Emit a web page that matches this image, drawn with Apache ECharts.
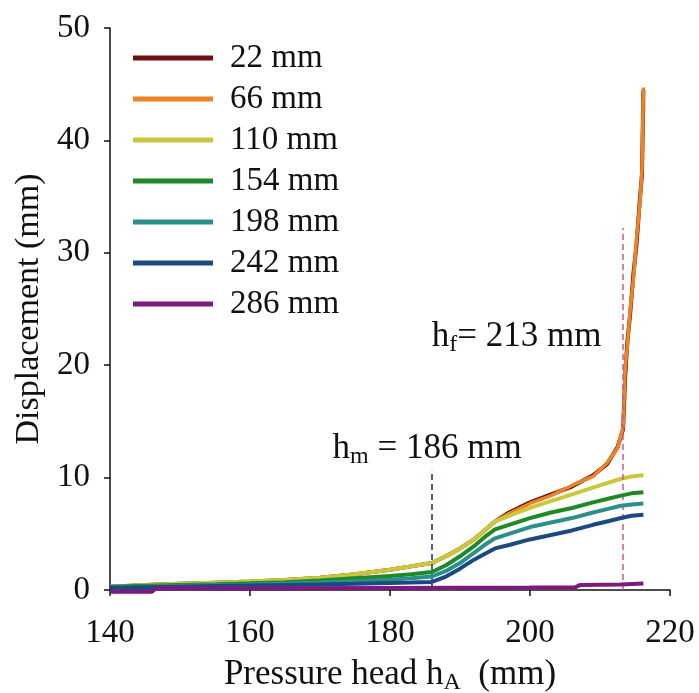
<!DOCTYPE html>
<html>
<head>
<meta charset="utf-8">
<script src="https://cdn.jsdelivr.net/npm/echarts@6/dist/echarts.min.js"></script>
<style>
  html, body { margin: 0; padding: 0; background: #fff; }
  #chart { width: 699px; height: 693px; }
</style>
</head>
<body>
<div id="chart"></div>
<script>
// pressure head (mm) for the two failing sections
const headFail = [140, 145, 150, 155, 160, 165, 170, 175, 180, 183, 186, 188, 190, 192, 193.5, 195, 197, 200, 203, 206, 209, 211, 212.5, 213.3, 213.6, 213.9, 214.3, 214.8, 215.2, 215.7, 216.0, 216.2];
const disp22 = [0.3, 0.45, 0.55, 0.65, 0.75, 0.9, 1.1, 1.4, 1.8, 2.1, 2.4, 3.0, 3.7, 4.5, 5.3, 6.1, 6.9, 7.8, 8.5, 9.2, 10.2, 11.2, 12.7, 14.3, 19.0, 22.0, 24.5, 28.3, 30.6, 34.8, 37.0, 44.5];
const disp66 = [0.3, 0.45, 0.55, 0.65, 0.75, 0.9, 1.1, 1.4, 1.8, 2.1, 2.4, 3.0, 3.7, 4.5, 5.3, 6.1, 6.8, 7.7, 8.4, 9.3, 10.1, 11.3, 12.6, 14.5, 19.8, 21.6, 24.9, 27.8, 31.1, 34.4, 37.4, 44.7];

// pressure head (mm) for the stable sections
const headStable = [140, 145, 150, 155, 160, 165, 170, 175, 180, 183, 186, 188, 190, 192, 193.5, 195, 197, 200, 203, 206, 209, 211, 213, 214.5, 216.2];
const disp110 = [0.3, 0.45, 0.55, 0.65, 0.75, 0.9, 1.1, 1.4, 1.8, 2.1, 2.4, 3.0, 3.7, 4.5, 5.3, 6.1, 6.6, 7.3, 7.9, 8.5, 9.1, 9.5, 9.9, 10.1, 10.2];
const disp154 = [0.28, 0.38, 0.45, 0.52, 0.6, 0.7, 0.85, 1.05, 1.25, 1.4, 1.6, 2.2, 3.0, 3.9, 4.7, 5.4, 5.8, 6.4, 6.9, 7.3, 7.8, 8.1, 8.4, 8.6, 8.7];
const disp198 = [0.25, 0.32, 0.38, 0.44, 0.5, 0.57, 0.66, 0.78, 0.92, 1.05, 1.2, 1.7, 2.4, 3.3, 4.0, 4.6, 5.0, 5.6, 6.0, 6.4, 6.9, 7.2, 7.5, 7.6, 7.7];
const disp242 = [0.2, 0.25, 0.3, 0.35, 0.4, 0.45, 0.5, 0.55, 0.62, 0.66, 0.72, 1.2, 1.9, 2.7, 3.2, 3.7, 4.0, 4.5, 4.9, 5.3, 5.8, 6.1, 6.4, 6.6, 6.7];

// deepest section
const headBase = [140, 146, 146.6, 160, 180, 200, 206.5, 207.2, 213, 216.2];
const disp286 = [-0.15, -0.15, 0.15, 0.15, 0.18, 0.22, 0.25, 0.45, 0.48, 0.58];

const seriesNames = ['22 mm', '66 mm', '110 mm', '154 mm', '198 mm', '242 mm', '286 mm'];
const seriesColors = ['#6e1010', '#ec8424', '#c9c83c', '#1f8a25', '#2b8f8c', '#1b4a82', '#7b1a80'];

const hm = 186, hmTop = 10.7;
const hf = 213.3, hfTop = 32.2;

const font = "'Liberation Serif', 'Times New Roman', serif";

function pairs(xs, ys) {
  return xs.map((x, i) => [x, ys[i]]);
}

const chart = echarts.init(document.getElementById('chart'));

const lineData = [
  pairs(headFail, disp22),
  pairs(headFail, disp66),
  pairs(headStable, disp110),
  pairs(headStable, disp154),
  pairs(headStable, disp198),
  pairs(headStable, disp242),
  pairs(headBase, disp286)
];

const series = lineData.map((d, i) => ({
  name: seriesNames[i],
  type: 'line',
  data: d,
  showSymbol: false,
  clip: false,
  color: seriesColors[i],
  lineStyle: { width: i === 1 ? 3.5 : 4, color: seriesColors[i] },
  z: 2 + i
}));

// dashed markers and their labels
series[0].markLine = {
  silent: true,
  symbol: 'none',
  label: { show: false },
  data: [
    [{ coord: [hm, 0], lineStyle: { color: '#1c2466', type: [6, 4], width: 1.5 } }, { coord: [hm, hmTop] }],
    [{ coord: [hf, 0], lineStyle: { color: '#c85a88', type: [6, 4], width: 1.5 } }, { coord: [hf, hfTop] }]
  ]
};

const rich = {
  h: { fontFamily: font, fontSize: 35, color: '#111', lineHeight: 38 },
  s: { fontFamily: font, fontSize: 24, color: '#111', lineHeight: 38, padding: [16, 0, 0, 0] }
};

series[0].markPoint = {
  silent: true,
  symbol: 'circle',
  symbolSize: 1,
  itemStyle: { color: 'rgba(0,0,0,0)' },
  label: { show: true, position: 'inside', rich: rich },
  data: [
    { coord: [185.3, 12.6], label: { formatter: '{h|h}{s|m}{h| = 186 mm}' } },
    { coord: [198.1, 22.5], label: { formatter: '{h|h}{s|f}{h|= 213 mm}' } }
  ]
};

const option = {
  backgroundColor: '#fff',
  animation: false,
  grid: { left: 110, right: 29, top: 28, bottom: 103, outerBoundsMode: 'none' },
  legend: {
    orient: 'vertical',
    left: 133,
    top: 41,
    padding: 0,
    icon: 'rect',
    itemWidth: 80,
    itemHeight: 5,
    itemGap: 7,
    data: seriesNames,
    textStyle: { fontFamily: font, fontSize: 33, color: '#111', lineHeight: 34, padding: [0, 0, 0, 12] }
  },
  xAxis: {
    type: 'value',
    min: 140,
    max: 220,
    interval: 20,
    name: '{t|Pressure head h}{s|A}{t|  (mm)}',
    nameLocation: 'middle',
    nameGap: 66,
    nameTextStyle: {
      rich: {
        t: { fontFamily: font, fontSize: 35, color: '#111', lineHeight: 38 },
        s: { fontFamily: font, fontSize: 24, color: '#111', lineHeight: 38, padding: [16, 0, 0, 0] }
      }
    },
    axisLine: { lineStyle: { color: '#111', width: 1.5 } },
    axisTick: { show: true, inside: false, length: 6, lineStyle: { color: '#111', width: 1.5 } },
    axisLabel: { fontFamily: font, fontSize: 33, color: '#111', margin: 27 },
    splitLine: { show: false }
  },
  yAxis: {
    type: 'value',
    min: 0,
    max: 50,
    interval: 10,
    name: 'Displacement (mm)',
    nameLocation: 'middle',
    nameGap: 58,
    nameTextStyle: { fontFamily: font, fontSize: 34, color: '#111' },
    axisLine: { show: true, lineStyle: { color: '#111', width: 1.5 } },
    axisTick: { show: true, inside: false, length: 6, lineStyle: { color: '#111', width: 1.5 } },
    axisLabel: { fontFamily: font, fontSize: 33, color: '#111', margin: 20 },
    splitLine: { show: false }
  },
  series: series
};

chart.setOption(option);
</script>
</body>
</html>
